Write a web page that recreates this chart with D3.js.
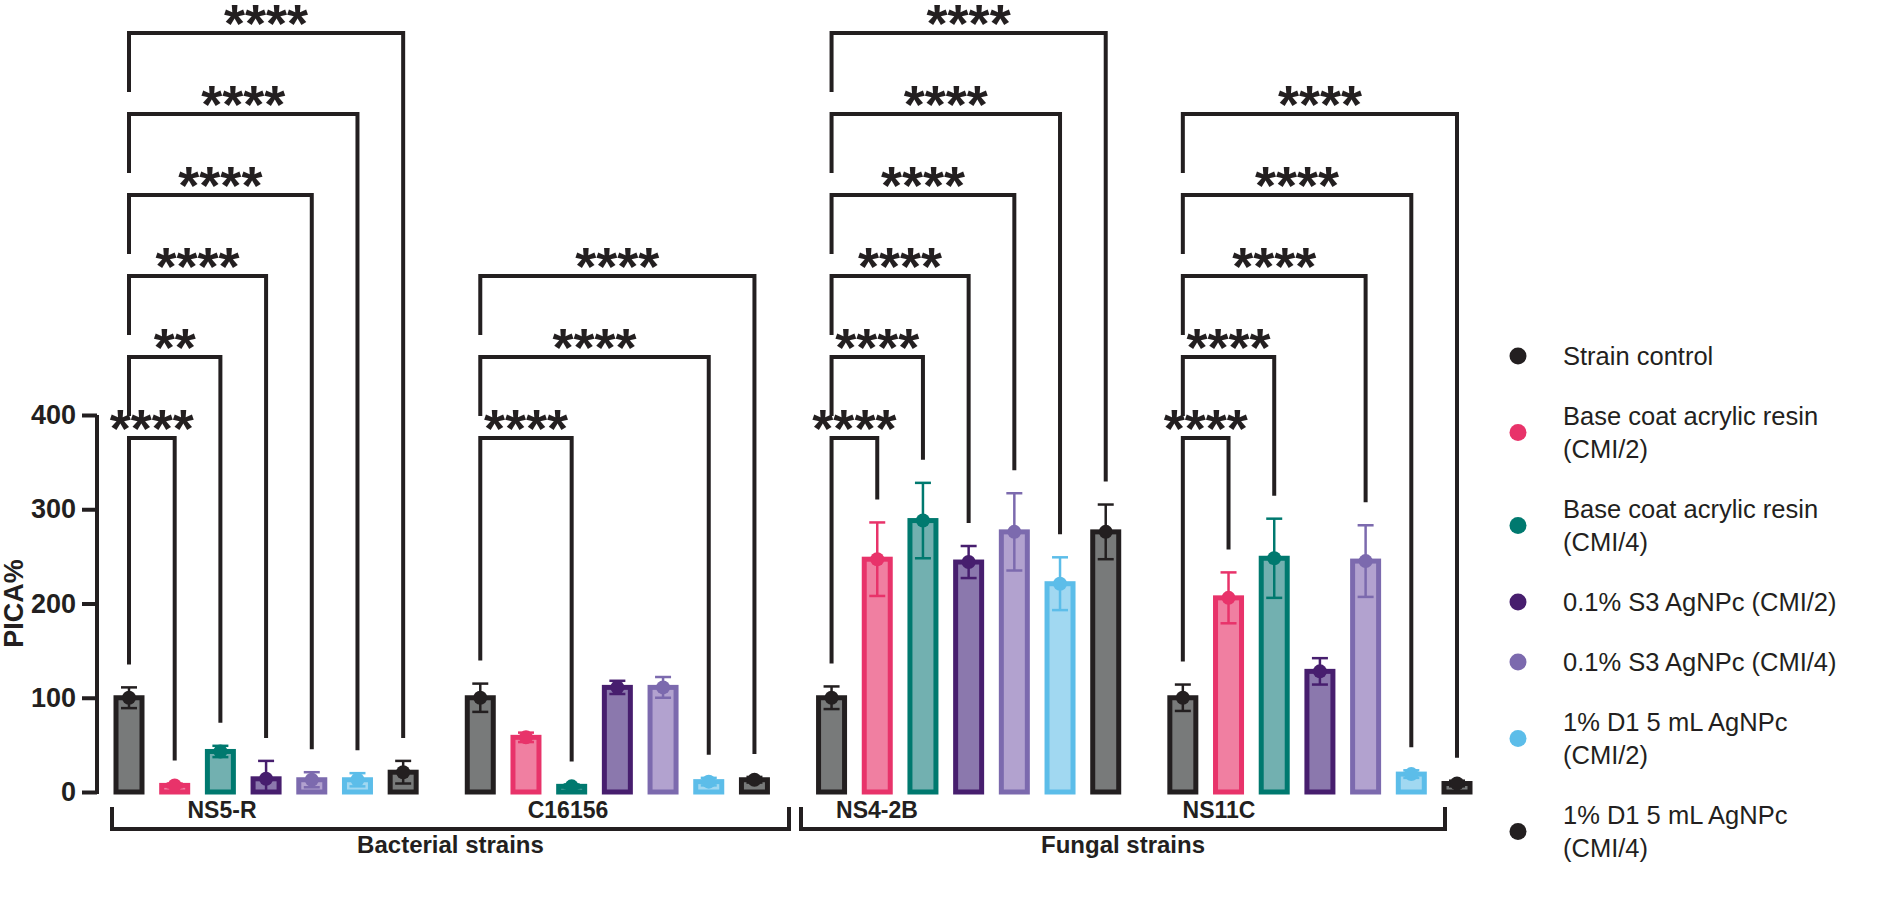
<!DOCTYPE html>
<html><head><meta charset="utf-8">
<script src="https://cdn.jsdelivr.net/npm/d3@7"></script>
<style>
body{margin:0;background:#fff;}
svg{display:block;}
text{font-family:"Liberation Sans",Arial,Helvetica,sans-serif;fill:#231f20;}
</style>
</head><body>
<svg id="chart" width="1904" height="900"></svg>
<script>
// ---------------- data ----------------
const groups = ["NS5-R", "C16156", "NS4-2B", "NS11C"];
const seriesNames = [
  "Strain control",
  "Base coat acrylic resin (CMI/2)",
  "Base coat acrylic resin (CMI/4)",
  "0.1% S3 AgNPc (CMI/2)",
  "0.1% S3 AgNPc (CMI/4)",
  "1% D1 5 mL AgNPc (CMI/2)",
  "1% D1 5 mL AgNPc (CMI/4)"
];
const legendLines = [
  ["Strain control"],
  ["Base coat acrylic resin", "(CMI/2)"],
  ["Base coat acrylic resin", "(CMI/4)"],
  ["0.1% S3 AgNPc (CMI/2)"],
  ["0.1% S3 AgNPc (CMI/4)"],
  ["1% D1 5 mL AgNPc", "(CMI/2)"],
  ["1% D1 5 mL AgNPc", "(CMI/4)"]
];
const strokeColors = ["#231f20", "#e8336a", "#00796f", "#471e6e", "#7c6aae", "#5cbde9", "#231f20"];
const fillColors   = ["#787a7a", "#f07fa1", "#72b0b0", "#8b78ad", "#b2a2cf", "#a1d8f1", "#787a7a"];

const meanNS5R   = [100, 7, 43, 14, 13, 13, 21];
const errNS5R    = [11, 2, 6, 19, 8, 7, 12];
const meanC16156 = [100, 58, 6, 111, 111, 11, 13];
const errC16156  = [15, 5, 2, 7, 11, 4, 3];
const meanNS42B  = [100, 247, 288, 244, 276, 221, 276];
const errNS42B   = [12, 39, 40, 17, 41, 28, 29];
const meanNS11C  = [100, 206, 248, 128, 245, 19, 9];
const errNS11C   = [14, 27, 42, 14, 38, 4, 3];

// comparisons: control (index 0) vs target index, with significance label
const compNS5R   = [1, 2, 3, 4, 5, 6];
const starsNS5R  = ["****", "**", "****", "****", "****", "****"];
const compC16156 = [2, 5, 6];
const starsC16156 = ["****", "****", "****"];
const compNS42B  = [1, 2, 3, 4, 5, 6];
const starsNS42B = ["****", "****", "****", "****", "****", "****"];
const compNS11C  = [1, 2, 4, 5, 6];
const starsNS11C = ["****", "****", "****", "****", "****"];

const yTicks = [0, 100, 200, 300, 400];
const superGroups = ["Bacterial strains", "Fungal strains"];

// ---------------- assemble ----------------
const means = [meanNS5R, meanC16156, meanNS42B, meanNS11C];
const errs  = [errNS5R, errC16156, errNS42B, errNS11C];
const comps = [compNS5R, compC16156, compNS42B, compNS11C];
const stars = [starsNS5R, starsC16156, starsNS42B, starsNS11C];

const rows = [];
groups.forEach((g, gi) => seriesNames.forEach((s, si) => {
  rows.push({group: g, series: s, si, value: means[gi][si], err: errs[gi][si]});
}));

const svg = d3.select("#chart");
const y = d3.scaleLinear().domain([0, 400]).range([792, 415]);
const x0 = d3.scaleBand().domain(groups).range([116, 1470]).paddingInner(0.1455).paddingOuter(0);
const x1 = d3.scaleBand().domain(seriesNames).range([0, x0.bandwidth()]).paddingInner(0.431).paddingOuter(0);
const cx = (g, s) => x0(g) + x1(s) + x1.bandwidth() / 2;
const ink = "#231f20";

// ---------------- bars ----------------
const barG = svg.append("g");
barG.selectAll("rect").data(rows).join("rect")
  .attr("x", d => x0(d.group) + x1(d.series))
  .attr("y", d => y(d.value))
  .attr("width", x1.bandwidth())
  .attr("height", d => y(0) - y(d.value))
  .attr("fill", d => fillColors[d.si])
  .attr("stroke", d => strokeColors[d.si])
  .attr("stroke-width", 5);

// error bars
const errG = svg.append("g");
rows.forEach(d => {
  const c = cx(d.group, d.series);
  const col = strokeColors[d.si];
  const lo = Math.max(0, d.value - d.err), hi = d.value + d.err;
  errG.append("line").attr("x1", c).attr("x2", c).attr("y1", y(lo)).attr("y2", y(hi))
    .attr("stroke", col).attr("stroke-width", 2.5);
  errG.append("line").attr("x1", c - 8).attr("x2", c + 8).attr("y1", y(hi)).attr("y2", y(hi))
    .attr("stroke", col).attr("stroke-width", 2.5);
  if (d.value - d.err > 0)
    errG.append("line").attr("x1", c - 8).attr("x2", c + 8).attr("y1", y(lo)).attr("y2", y(lo))
      .attr("stroke", col).attr("stroke-width", 2.5);
  errG.append("circle").attr("cx", c).attr("cy", y(d.value)).attr("r", 7).attr("fill", col);
});

// ---------------- y axis ----------------
const yAxis = d3.axisLeft(y).tickValues(yTicks).tickSize(15).tickPadding(6);
const ax = svg.append("g").attr("transform", "translate(97,0)").call(yAxis);
ax.select(".domain").attr("stroke", ink).attr("stroke-width", 4).attr("d", `M0,${y(400)}V${y(0) + 2}`);
ax.selectAll(".tick line").attr("stroke", ink).attr("stroke-width", 4);
ax.selectAll(".tick text").attr("fill", ink).style("font-size", "27px").style("font-weight", "bold")
  .style("font-family", '"Liberation Sans",Arial,sans-serif');

svg.append("text").attr("transform", `translate(23,${y(200)}) rotate(-90)`)
  .attr("text-anchor", "middle").style("font-size", "27px").style("font-weight", "bold").text("PICA%");

// ---------------- significance brackets ----------------
const baseBracketY = 438, levelStep = 81, legGap = 23, shortLeg = 59;
const brG = svg.append("g");
groups.forEach((g, gi) => {
  const xa = cx(g, seriesNames[0]);
  comps[gi].forEach((t, k) => {
    const by = baseBracketY - k * levelStep;
    const xb = cx(g, seriesNames[t]);
    const leftEnd = k === 0 ? y(means[gi][0] + errs[gi][0]) - legGap : by + shortLeg;
    const rightEnd = y(means[gi][t] + errs[gi][t]) - legGap;
    brG.append("path")
      .attr("d", `M${xa},${leftEnd}V${by}H${xb}V${rightEnd}`)
      .attr("fill", "none").attr("stroke", ink).attr("stroke-width", 4)
      .attr("stroke-linejoin", "miter");
    brG.append("text").attr("x", (xa + xb) / 2).attr("y", by + 9)
      .attr("text-anchor", "middle").style("font-size", "54px").style("font-weight", "bold")
      .text(stars[gi][k]);
  });
});

// ---------------- group labels & super-group brackets ----------------
const groupLabelX = {"NS5-R": 222, "C16156": 568, "NS4-2B": 877, "NS11C": 1219};
svg.append("g").selectAll("text").data(groups).join("text")
  .attr("x", d => groupLabelX[d]).attr("y", 818)
  .attr("text-anchor", "middle").style("font-size", "23px").style("font-weight", "bold")
  .text(d => d);

const superExtent = [[112, 789], [801, 1445]];
superGroups.forEach((sg, i) => {
  const [a, b] = superExtent[i];
  svg.append("path").attr("d", `M${a},807V829H${b}V807`)
    .attr("fill", "none").attr("stroke", ink).attr("stroke-width", 4);
  svg.append("text").attr("x", (a + b) / 2).attr("y", 853).attr("text-anchor", "middle")
    .style("font-size", "24px").style("font-weight", "bold").text(sg);
});

// ---------------- legend ----------------
const legG = svg.append("g");
const lineH = 33, pitch1 = 60, pitch2 = 93;
let ly = 356 - pitch1 / 2;
legendLines.forEach((lines, i) => {
  const h = lines.length === 1 ? pitch1 : pitch2;
  const c = ly + h / 2;
  legG.append("circle").attr("cx", 1518).attr("cy", c).attr("r", 8.5).attr("fill", strokeColors[i]);
  const t = legG.append("text").attr("x", 1563).style("font-size", "25.5px");
  lines.forEach((ln, j) => {
    t.append("tspan").attr("x", 1563)
      .attr("y", c + 9 + (j - (lines.length - 1) / 2) * lineH).text(ln);
  });
  ly += h;
});
</script>
</body></html>
